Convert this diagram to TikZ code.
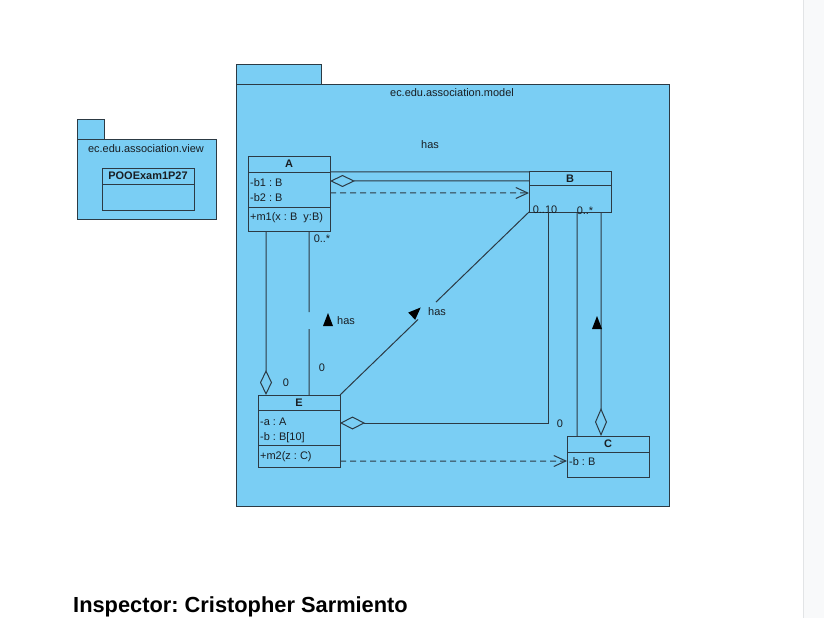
\documentclass[tikz,border=0pt]{standalone}
\usepackage{fontspec}
\setmainfont{Liberation Sans}
\usetikzlibrary{arrows.meta,calc}
\frenchspacing
\definecolor{pkgblue}{RGB}{122,206,244}
\definecolor{edge}{RGB}{44,58,68}
\definecolor{txt}{RGB}{25,30,35}
\definecolor{stripbg}{RGB}{248,249,250}
\definecolor{stripline}{RGB}{226,228,230}
\tikzset{
  pkg/.style={draw=edge, fill=pkgblue, line width=1bp, inner sep=0pt, outer sep=0pt, rectangle},
  cls/.style={draw=edge, line width=1bp, inner sep=0pt, outer sep=0pt, rectangle},
  lbl/.style={font=\fontsize{11}{13}\selectfont, text=txt, inner sep=0pt, text height=8bp, text depth=2bp},
  attr/.style={lbl, anchor=west},
  cname/.style={lbl, font=\fontsize{11}{13}\selectfont\bfseries},
  assoc/.style={draw=edge, line width=1bp},
  dep/.style={draw=edge, line width=1bp, dash pattern=on 6bp off 4bp, -{Straight Barb[length=12bp,width=11bp]}},
  tri/.style={fill=black},
}
\begin{document}
\begin{tikzpicture}[x=1bp,y=-1bp]
\useasboundingbox (0,0) rectangle (824,618);
\fill[white] (0,0) rectangle (824,618);
\fill[stripbg] (803,0) rectangle (824,618);
\draw[stripline, line width=1.5bp] (803.5,0) -- (803.5,618);

% view package
\node[pkg, minimum width=27bp, minimum height=20bp] (vtab) at (90.5,130) {};
\node[pkg, minimum width=139bp, minimum height=79bp] (view) at (146.5,179.5) {};
\node[lbl] (vname) at (146,150) {ec.edu.association.view};
\node[cls, minimum width=92bp, minimum height=41bp] (P) at (148,189.5) {};
\draw[assoc] ([yshift=-16bp]P.north west) -- ([yshift=-16bp]P.north east);
\node[cname] (Pn) at (148,177) {POOExam1P27};

% model package
\node[pkg, minimum width=85bp, minimum height=20bp] (mtab) at (278.5,75) {};
\node[pkg, minimum width=433bp, minimum height=421bp] (model) at (452.5,295.5) {};
\node[lbl] (mname) at (452,94) {ec.edu.association.model};
\node[lbl] (hastop) at (430,146) {has};

% class A
\node[cls, minimum width=82bp, minimum height=74bp] (A) at (289,194) {};
\draw[assoc] ([yshift=-16bp]A.north west) -- ([yshift=-16bp]A.north east);
\draw[assoc] ([yshift=-51bp]A.north west) -- ([yshift=-51bp]A.north east);
\node[cname] (An) at (289,165) {A};
\node[attr] (Aa1) at (250,184) {-b1 : B};
\node[attr] (Aa2) at (250,199) {-b2 : B};
\node[attr] (Ao1) at (250,218) {+m1(x : B\ \ y:B)};

% class B
\node[cls, minimum width=82bp, minimum height=40bp] (B) at (570,192) {};
\draw[assoc] ([yshift=-14bp]B.north west) -- ([yshift=-14bp]B.north east);
\node[cname] (Bn) at (570,180) {B};

% class E
\node[cls, minimum width=82bp, minimum height=72bp] (E) at (299,431) {};
\draw[assoc] ([yshift=-15bp]E.north west) -- ([yshift=-15bp]E.north east);
\draw[assoc] ([yshift=-50bp]E.north west) -- ([yshift=-50bp]E.north east);
\node[cname] (En) at (299,403) {E};
\node[attr] (Ea1) at (260,422) {-a : A};
\node[attr] (Ea2) at (260,437) {-b : B[10]};
\node[attr] (Eo1) at (260,456) {+m2(z : C)};

% class C
\node[cls, minimum width=82bp, minimum height=41bp] (C) at (608,456.5) {};
\draw[assoc] ([yshift=-16bp]C.north west) -- ([yshift=-16bp]C.north east);
\node[cname] (Cn) at (608,444) {C};
\node[attr] (Ca1) at (569,462) {-b : B};

% A -- B
\draw[assoc] ([yshift=-15bp]A.north east) -- (B.north west);
\draw[assoc, {Diamond[open,length=25bp,width=12bp]}-] ([yshift=-24bp]A.north east) -- ([yshift=-9bp]B.north west);
\draw[dep] ([yshift=-36bp]A.north east) -- ([yshift=-21bp]B.north west);

% A -- E (left, aggregation at E)
\draw[assoc, -{Diamond[open,length=25bp,width=12bp]}] ([xshift=18bp]A.south west) -- ([xshift=8bp]E.north west);
\node[lbl] (l0a) at (286,383) {0};

% A -- E (right, has)
\coordinate (a1) at ([xshift=61bp]A.south west);
\coordinate (e1) at ([xshift=51bp]E.north west);
\draw[assoc] (a1) -- ($(a1)!0.494!(e1)$) ($(a1)!0.598!(e1)$) -- (e1);
\node[lbl] (l0s) at (322,240) {0..*};
\node[lbl] (l0b) at (322,368) {0};
\fill[tri] (323,326) -- (333,326) -- (328,313) -- cycle;
\node[lbl] (has1) at (346,321) {has};

% E -- B diagonal
\coordinate (e2) at (E.north east);
\coordinate (b2) at (B.south west);
\draw[assoc] (e2) -- ($(e2)!0.413!(b2)$) ($(e2)!0.508!(b2)$) -- (b2);
\fill[tri, shift={(416,312)}, rotate=-46] (-5,6) -- (5,6) -- (0,-6.5) -- cycle;
\node[lbl] (has2) at (437,312) {has};
\node[lbl] (l010) at (545,211) {0..10};

% E -- B right angle
\draw[assoc, {Diamond[open,length=25bp,width=13bp]}-] ([yshift=8bp]E.east) -| ([xshift=19bp]B.south west);

% C -- B
\draw[assoc] ([xshift=10bp]C.north west) -- ([xshift=48bp]B.south west);
\draw[assoc, -{Diamond[open,length=28bp,width=12bp]}] ([xshift=72bp]B.south west) -- ([xshift=34bp]C.north west);
\fill[tri] (592,329) -- (602,329) -- (597,316) -- cycle;
\node[lbl] (l0c) at (560,424) {0};
\node[lbl] (l0d) at (585,212) {0..*};

% E -- C dependency
\draw[dep] ([yshift=6bp]E.south east) -- ([yshift=-25bp]C.north west);

% title
\node[font=\fontsize{21.9}{25}\selectfont\bfseries, text=black, inner sep=0pt, anchor=base west] (title) at (73,612) {Inspector: Cristopher Sarmiento};
\end{tikzpicture}
\end{document}
